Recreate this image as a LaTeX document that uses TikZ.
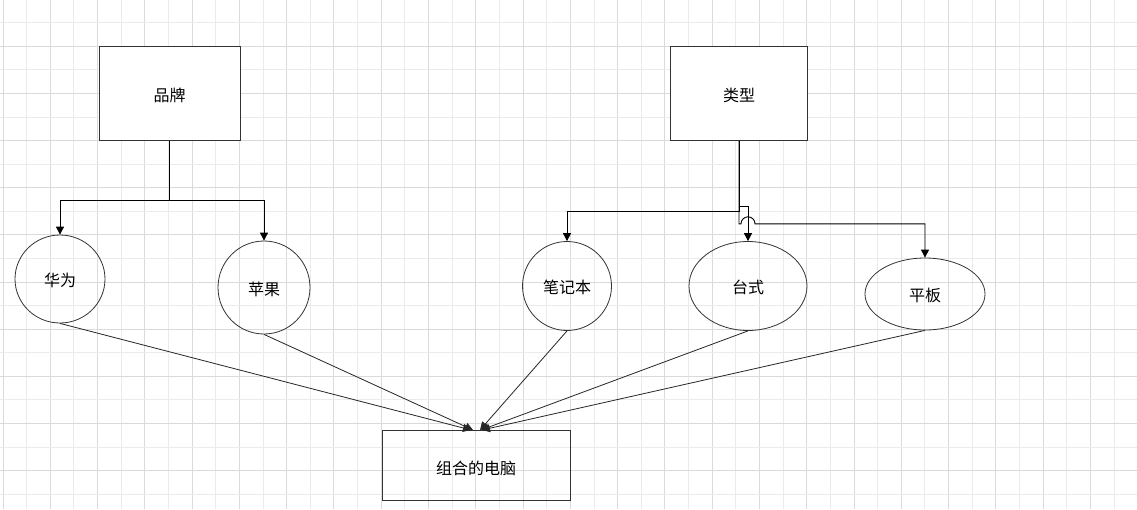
\documentclass[tikz,border=0pt]{standalone}
\usepackage{fontspec}
\newfontfamily\cjk{Noto Sans CJK SC}
\usetikzlibrary{arrows.meta,shapes.geometric,calc}
\definecolor{gridlight}{HTML}{EBEBEB}
\definecolor{griddark}{HTML}{DADADA}
\definecolor{shapeline}{HTML}{333333}
\tikzset{
  box/.style={draw=shapeline,line width=1pt,rectangle,inner sep=0pt,font=\cjk\fontsize{16}{19}\selectfont,text height=19pt,text depth=2pt},
  oval/.style={draw=shapeline,line width=0.8pt,ellipse,inner sep=0pt,font=\cjk\fontsize{16}{19}\selectfont,text height=17pt,text depth=2pt},
  conn/.style={draw=black,line width=0.9pt,-{Triangle[length=8pt,width=8pt]}},
  thin conn/.style={draw=black!85,line width=0.8pt,-{Triangle[length=8pt,width=8pt]}}
}
\begin{document}
\begin{tikzpicture}[x=1pt,y=-1pt]
\fill[white] (0,0) rectangle (1137,509);
\useasboundingbox (0,0) rectangle (1137,509);
% grid
\foreach \k in {0,...,47}{
  \pgfmathsetmacro{\gx}{3+23.64*\k}
  \pgfmathtruncatemacro{\gpar}{mod(\k,2)}
  \ifnum\gpar=0 \draw[griddark,line width=1pt] (\gx,0) -- (\gx,509);
  \else \draw[gridlight,line width=1pt] (\gx,0) -- (\gx,509); \fi
}
\foreach \k in {1,...,21}{
  \pgfmathsetmacro{\gy}{-0.9+23.58*\k}
  \pgfmathtruncatemacro{\gpar}{mod(\k,2)}
  \ifnum\gpar=0 \draw[griddark,line width=1pt] (0,\gy) -- (1137,\gy);
  \else \draw[gridlight,line width=1pt] (0,\gy) -- (1137,\gy); \fi
}
% nodes
\node[box,fill=white,minimum width=141pt,minimum height=94pt] (pp) at (169.5,93) {品牌};
\node[box,fill=white,minimum width=137pt,minimum height=94pt] (lx) at (739,93) {类型};
\node[oval,minimum width=90pt,minimum height=88pt] (hw) at (60,279) {华为};
\node[oval,minimum width=92pt,minimum height=93pt] (pg) at (264,287.5) {苹果};
\node[oval,minimum width=89pt,minimum height=89pt] (bjb) at (567,286) {笔记本};
\node[oval,minimum width=118pt,minimum height=89pt] (tai) at (748,286) {台式};
\node[oval,minimum width=120pt,minimum height=72pt] (pb) at (925,294) {平板};
\node[box,minimum width=188pt,minimum height=70pt] (zh) at (476,465.5) {组合的电脑};
% brand connectors
\draw[conn] (pp.south) -- ($(pp.south)+(0,60)$) -| (hw.north);
\draw[conn] (pp.south) -- ($(pp.south)+(0,60)$) -| (pg.north);
% type connectors
\draw[conn] (lx.south) -- ($(lx.south)+(0,70.7)$) -| (bjb.north);
\draw[conn] (lx.south) -- ($(lx.south)+(0,66)$) -| (tai.north);
\draw[conn] (lx.south) -- ($(lx.south)+(0,83.3)$) coordinate (j0)
  -- ($(tai.north |- j0)+(-7,0)$) arc[start angle=180,end angle=0,radius=7pt]
  -| (pb.north);
% to combined computer
\draw[thin conn] (hw.south) -- ($(zh.north)+(-5,0)$);
\draw[thin conn] (pg.south) -- ($(zh.north)+(-3,0)$);
\draw[thin conn] (bjb.south) -- ($(zh.north)+(4,0)$);
\draw[thin conn] (tai.south) -- ($(zh.north)+(5,0)$);
\draw[thin conn] (pb.south) -- ($(zh.north)+(6,0)$);
\end{tikzpicture}
\end{document}
